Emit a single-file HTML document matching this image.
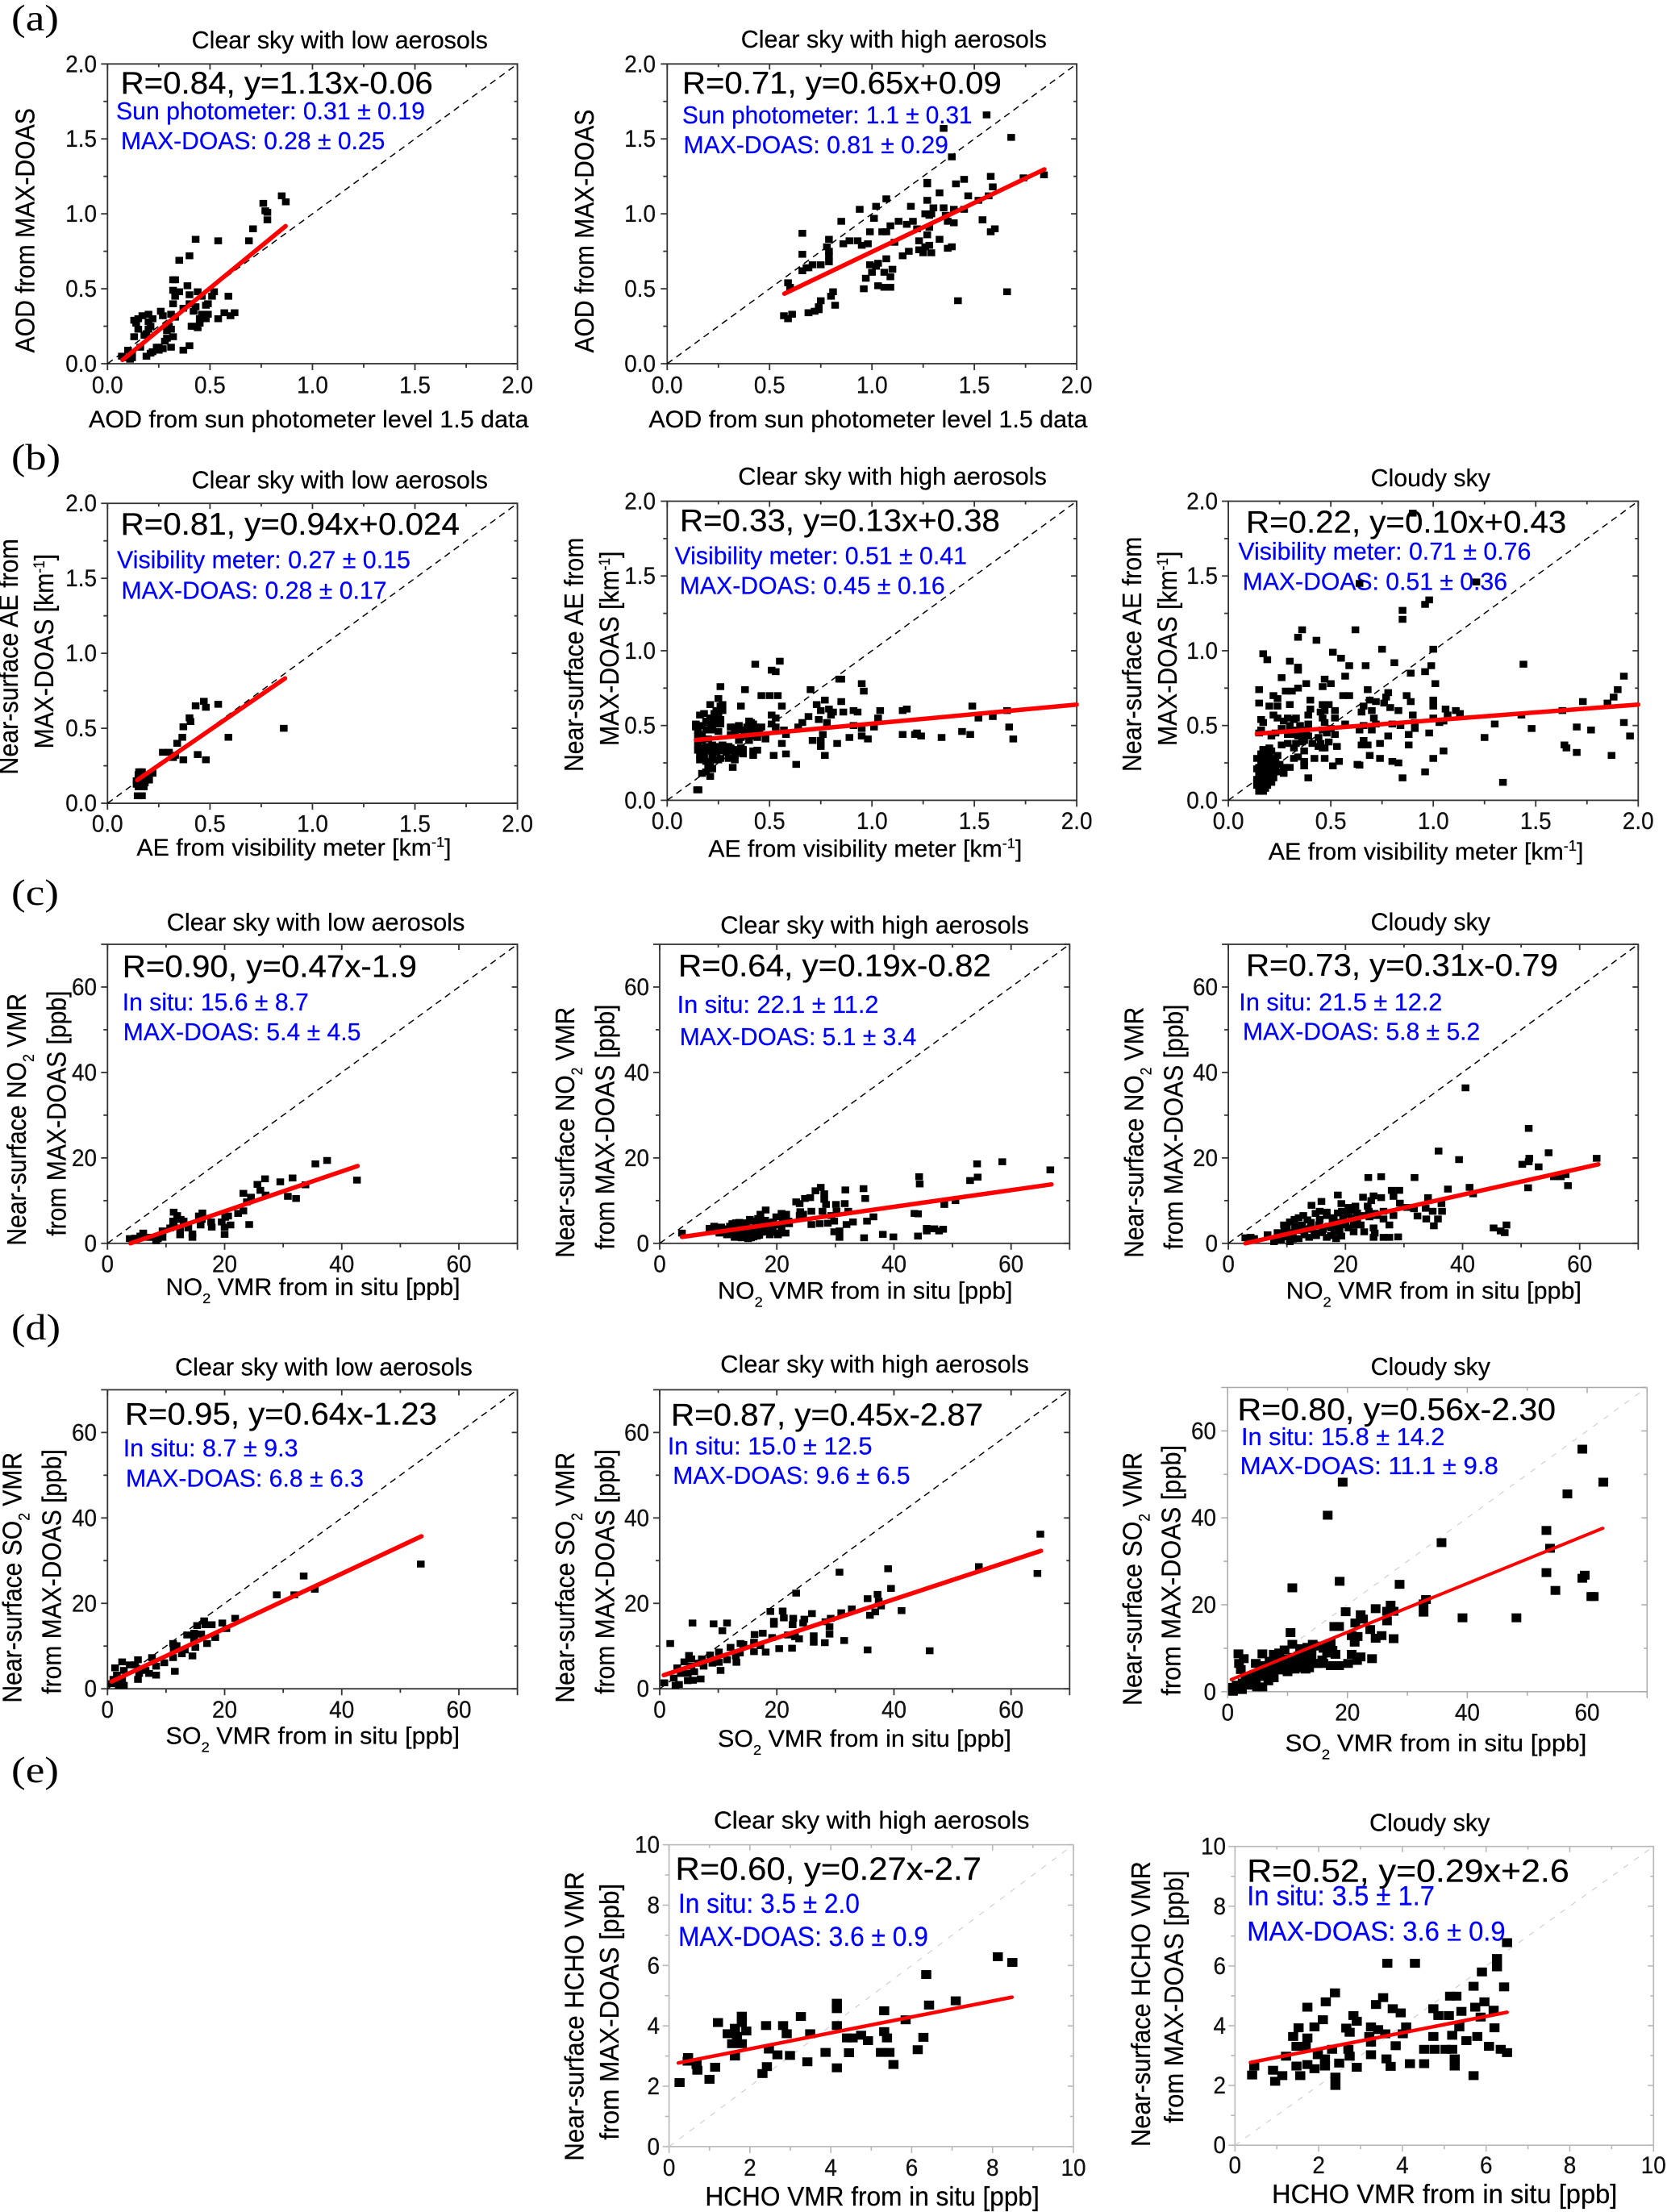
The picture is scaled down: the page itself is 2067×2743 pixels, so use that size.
<!DOCTYPE html>
<html lang="en">
<head>
<meta charset="utf-8">
<title>MAX-DOAS comparison scatter plots</title>
<style>
html,body{margin:0;padding:0;background:#fff;}
svg{display:block;}
text{font-family:"Liberation Sans",Arial,sans-serif;fill:#000;stroke:#000;stroke-width:.25px;}
.t{font-size:31px;}
.s{font-size:39px;}
.b{font-size:31px;fill:#0000ff;stroke:#0000ff;}
.x{font-size:30px;}
.y{font-size:33px;}
.l{font-family:"Liberation Serif",serif;font-size:46px;stroke-width:0;}
.tk{font-size:30px;fill:#111;}
.e .s{font-size:40px;}
.e .b{font-size:34px;}
.e .x{font-size:33px;}
.e .y{font-size:33px;}
</style>
</head>
<body>
<svg id="figure" xmlns="http://www.w3.org/2000/svg" width="2067" height="2743" viewBox="0 0 2067 2743">
<rect width="2067" height="2743" fill="#fff"/>

<text class="l" data-fit="14 73 37.5">(a)</text>
<text class="l" data-fit="14 75 582">(b)</text>
<text class="l" data-fit="14 73 1122">(c)</text>
<text class="l" data-fit="14 75 1661">(d)</text>
<text class="l" data-fit="14 73 2210">(e)</text>

<g id="a1">
<text class="t" data-fit="237.6 605 60">Clear sky with low aerosols</text>
<text class="s" data-fit="149.6 536.8 116">R=0.84, y=1.13x-0.06</text>
<text class="b" data-fit="144 527 148">Sun photometer: 0.31 ± 0.19</text>
<text class="b" data-fit="150 477.5 185">MAX-DOAS: 0.28 ± 0.25</text>
<text class="x" data-fit="110 655.6 530">AOD from sun photometer level 1.5 data</text>
<text class="y" data-fit-v="437.5 134 42.7">AOD from MAX-DOAS</text>
</g>

<g id="a2">
<text class="t" data-fit="918.8 1298 59">Clear sky with high aerosols</text>
<text class="s" data-fit="846 1242 116">R=0.71, y=0.65x+0.09</text>
<text class="b" data-fit="846 1205.7 153">Sun photometer: 1.1 ± 0.31</text>
<text class="b" data-fit="847.5 1176 190">MAX-DOAS: 0.81 ± 0.29</text>
<text class="x" data-fit="804.4 1348.7 530">AOD from sun photometer level 1.5 data</text>
<text class="y" data-fit-v="437.5 135.7 736">AOD from MAX-DOAS</text>
</g>

<g id="b1">
<text class="t" data-fit="237.6 605 605.6">Clear sky with low aerosols</text>
<text class="s" data-fit="149.6 570 663">R=0.81, y=0.94x+0.024</text>
<text class="b" data-fit="145 509 704.7">Visibility meter: 0.27 ± 0.15</text>
<text class="b" data-fit="150.5 479.6 742.6">MAX-DOAS: 0.28 ± 0.17</text>
<text class="x" data-fit="169.4 559.7 1061">AE from visibility meter [km<tspan dy="-11" font-size="18">-1</tspan><tspan dy="11">]</tspan></text>
<text class="y" data-fit-v="960.6 668 22">Near-surface AE from</text>
<text class="y" data-fit-v="928.5 686.8 66">MAX-DOAS [km<tspan dy="-11" font-size="19">-1</tspan><tspan dy="11">]</tspan></text>
</g>

<g id="b2">
<text class="t" data-fit="915.3 1298 601">Clear sky with high aerosols</text>
<text class="s" data-fit="843 1240 658.7">R=0.33, y=0.13x+0.38</text>
<text class="b" data-fit="836.5 1199 699.3">Visibility meter: 0.51 ± 0.41</text>
<text class="b" data-fit="842.7 1171.8 736.5">MAX-DOAS: 0.45 ± 0.16</text>
<text class="x" data-fit="878.3 1267.3 1062.7">AE from visibility meter [km<tspan dy="-11" font-size="18">-1</tspan><tspan dy="11">]</tspan></text>
<text class="y" data-fit-v="957 666.5 723">Near-surface AE from</text>
<text class="y" data-fit-v="925 683.4 767">MAX-DOAS [km<tspan dy="-11" font-size="19">-1</tspan><tspan dy="11">]</tspan></text>
</g>

<g id="b3">
<text class="t" data-fit="1699.6 1847.9 603">Cloudy sky</text>
<text class="s" data-fit="1545 1942.5 660.7">R=0.22, y=0.10x+0.43</text>
<text class="b" data-fit="1535.4 1898.5 694.2">Visibility meter: 0.71 ± 0.76</text>
<text class="b" data-fit="1540.7 1869 731.7">MAX-DOAS: 0.51 ± 0.36</text>
<text class="x" data-fit="1572.8 1963.6 1066">AE from visibility meter [km<tspan dy="-11" font-size="18">-1</tspan><tspan dy="11">]</tspan></text>
<text class="y" data-fit-v="957 665.5 1415">Near-surface AE from</text>
<text class="y" data-fit-v="925 683.4 1459">MAX-DOAS [km<tspan dy="-11" font-size="19">-1</tspan><tspan dy="11">]</tspan></text>
</g>

<g id="c1">
<text class="t" data-fit="206.8 576.5 1154">Clear sky with low aerosols</text>
<text class="s" data-fit="151.8 517 1211.6">R=0.90, y=0.47x-1.9</text>
<text class="b" data-fit="151.8 382.8 1252.8">In situ: 15.6 ± 8.7</text>
<text class="b" data-fit="152.7 447.5 1290">MAX-DOAS: 5.4 ± 4.5</text>
<text class="x" data-fit="205.5 570.7 1606">NO<tspan dy="10" font-size="18">2</tspan><tspan dy="-10"> VMR from in situ [ppb]</tspan></text>
<text class="y" data-fit-v="1544.6 1231.8 32">Near-surface NO<tspan dy="10" font-size="19">2</tspan><tspan dy="-10"> VMR</tspan></text>
<text class="y" data-fit-v="1532.7 1228.5 81.4">from MAX-DOAS [ppb]</text>
</g>

<g id="c2">
<text class="t" data-fit="893.3 1276 1157.5">Clear sky with high aerosols</text>
<text class="s" data-fit="841 1229 1210.5">R=0.64, y=0.19x-0.82</text>
<text class="b" data-fit="839.6 1089.6 1256">In situ: 22.1 ± 11.2</text>
<text class="b" data-fit="842.7 1136.6 1296">MAX-DOAS: 5.1 ± 3.4</text>
<text class="x" data-fit="890 1255.5 1610.5">NO<tspan dy="10" font-size="18">2</tspan><tspan dy="-10"> VMR from in situ [ppb]</tspan></text>
<text class="y" data-fit-v="1559.8 1248.7 712">Near-surface NO<tspan dy="10" font-size="19">2</tspan><tspan dy="-10"> VMR</tspan></text>
<text class="y" data-fit-v="1549.6 1245.4 761.3">from MAX-DOAS [ppb]</text>
</g>

<g id="c3">
<text class="t" data-fit="1699.6 1847.9 1153.4">Cloudy sky</text>
<text class="s" data-fit="1545 1932 1210">R=0.73, y=0.31x-0.79</text>
<text class="b" data-fit="1536.3 1788.4 1252.8">In situ: 21.5 ± 12.2</text>
<text class="b" data-fit="1541 1835.5 1289.3">MAX-DOAS: 5.8 ± 5.2</text>
<text class="x" data-fit="1594.8 1961 1610.5">NO<tspan dy="10" font-size="18">2</tspan><tspan dy="-10"> VMR from in situ [ppb]</tspan></text>
<text class="y" data-fit-v="1559.8 1248.7 1417.5">Near-surface NO<tspan dy="10" font-size="19">2</tspan><tspan dy="-10"> VMR</tspan></text>
<text class="y" data-fit-v="1549.6 1245.4 1466.3">from MAX-DOAS [ppb]</text>
</g>

<g id="d1">
<text class="t" data-fit="217 586 1705.6">Clear sky with low aerosols</text>
<text class="s" data-fit="155 542 1766.3">R=0.95, y=0.64x-1.23</text>
<text class="b" data-fit="152.7 369.6 1806">In situ: 8.7 ± 9.3</text>
<text class="b" data-fit="156 451 1843.7">MAX-DOAS: 6.8 ± 6.3</text>
<text class="x" data-fit="205.5 570 2162.5">SO<tspan dy="10" font-size="18">2</tspan><tspan dy="-10"> VMR from in situ [ppb]</tspan></text>
<text class="y" data-fit-v="2111.6 1800.8 26.4">Near-surface SO<tspan dy="10" font-size="19">2</tspan><tspan dy="-10"> VMR</tspan></text>
<text class="y" data-fit-v="2100.7 1797 75.7">from MAX-DOAS [ppb]</text>
</g>

<g id="d2">
<text class="t" data-fit="893.3 1276 1702">Clear sky with high aerosols</text>
<text class="s" data-fit="832 1219.4 1767.4">R=0.87, y=0.45x-2.87</text>
<text class="b" data-fit="827.7 1081.6 1803.4">In situ: 15.0 ± 12.5</text>
<text class="b" data-fit="834.3 1128.7 1840">MAX-DOAS: 9.6 ± 6.5</text>
<text class="x" data-fit="890 1254 2166">SO<tspan dy="10" font-size="18">2</tspan><tspan dy="-10"> VMR from in situ [ppb]</tspan></text>
<text class="y" data-fit-v="2111.6 1800.8 712">Near-surface SO<tspan dy="10" font-size="19">2</tspan><tspan dy="-10"> VMR</tspan></text>
<text class="y" data-fit-v="2100.7 1797 761.3">from MAX-DOAS [ppb]</text>
</g>

<g id="d3">
<text class="t" data-fit="1699.6 1847.9 1705.2">Cloudy sky</text>
<text class="s" data-fit="1534.5 1929.3 1760.9">R=0.80, y=0.56x-2.30</text>
<text class="b" data-fit="1539 1791.5 1791.8">In situ: 15.8 ± 14.2</text>
<text class="b" data-fit="1537.6 1858 1828">MAX-DOAS: 11.1 ± 9.8</text>
<text class="x" data-fit="1593.5 1967.5 2171.6">SO<tspan dy="10" font-size="18">2</tspan><tspan dy="-10"> VMR from in situ [ppb]</tspan></text>
<text class="y" data-fit-v="2115 1800.8 1415.7">Near-surface SO<tspan dy="10" font-size="19">2</tspan><tspan dy="-10"> VMR</tspan></text>
<text class="y" data-fit-v="2102.6 1791.8 1463.7">from MAX-DOAS [ppb]</text>
</g>

<g id="e1" class="e">
<text class="t" data-fit="885 1276.6 2267.5">Clear sky with high aerosols</text>
<text class="s" data-fit="837.5 1217 2331">R=0.60, y=0.27x-2.7</text>
<text class="b" data-fit="841 1066 2372">In situ: 3.5 ± 2.0</text>
<text class="b" data-fit="841 1151 2413">MAX-DOAS: 3.6 ± 0.9</text>
<text class="x" data-fit="874.4 1289 2735">HCHO VMR from in situ [ppb]</text>
<text class="y" data-fit-v="2679.6 2321 723.4">Near-surface HCHO VMR</text>
<text class="y" data-fit-v="2653.6 2335.7 767">from MAX-DOAS [ppb]</text>
</g>

<g id="e2" class="e">
<text class="t" data-fit="1698 1847.5 2270.3">Cloudy sky</text>
<text class="s" data-fit="1546.2 1945.8 2333.3">R=0.52, y=0.29x+2.6</text>
<text class="b" data-fit="1546.2 1779 2362.7">In situ: 3.5 ± 1.7</text>
<text class="b" data-fit="1546.2 1866.8 2406.7">MAX-DOAS: 3.6 ± 0.9</text>
<text class="x" data-fit="1577 2005.5 2732">HCHO VMR from in situ [ppb]</text>
<text class="y" data-fit-v="2662 2308 1426">Near-surface HCHO VMR</text>
<text class="y" data-fit-v="2632.8 2319.5 1467">from MAX-DOAS [ppb]</text>
</g>
</svg>

<script>
/* ---------- tick values and labels ---------- */
const aodTicks = [0, 0.5, 1, 1.5, 2];
const aodTickLabels = ['0.0', '0.5', '1.0', '1.5', '2.0'];
const vmrTicks = [0, 20, 40, 60];
const vmrTickLabels = ['0', '20', '40', '60'];
const hchoTicks = [0, 2, 4, 6, 8, 10];
const hchoTickLabels = ['0', '2', '4', '6', '8', '10'];

/* ---------- series values: [x, y] pairs ---------- */
const a1Points = [[.85,1.12],[.87,1.08],[.76,1.07],[.77,1.02],[.78,1.01],[.78,.96],[.71,.9],[.69,.82],[.54,.82],[.43,.83],[.4,.72],[.35,.69],[.32,.56],[.33,.56],[.39,.52],[.32,.49],[.35,.48],[.44,.48],[.4,.46],[.52,.48],[.51,.45],[.46,.45],[.59,.45],[.33,.45],[.32,.4],[.4,.4],[.49,.4],[.48,.39],[.37,.37],[.43,.38],[.42,.35],[.46,.33],[.49,.33],[.57,.34],[.62,.34],[.6,.32],[.54,.3],[.45,.3],[.48,.3],[.41,.25],[.44,.24],[.42,.25],[.45,.27],[.26,.35],[.27,.32],[.31,.33],[.33,.31],[.2,.33],[.17,.32],[.22,.3],[.13,.29],[.15,.3],[.14,.27],[.15,.23],[.2,.28],[.21,.25],[.2,.23],[.13,.18],[.18,.19],[.19,.2],[.31,.23],[.3,.25],[.29,.22],[.32,.18],[.29,.17],[.28,.15],[.31,.11],[.25,.11],[.27,.1],[.24,.11],[.25,.09],[.21,.07],[.19,.05],[.22,.08],[.4,.12],[.37,.09],[.1,.09],[.07,.05],[.11,.03],[.12,.04],[.16,.11],[.12,.07],[.09,.04]];
const a1Fit = [[.073,.025],[.869,.918]];

const a2Points = [[1.56,1.66],[1.35,1.57],[1.68,1.51],[1.39,1.38],[1.58,1.25],[1.74,1.24],[1.84,1.26],[1.45,1.23],[1.59,1.18],[1.41,1.2],[1.27,1.21],[1.27,1.2],[1.33,1.14],[1.47,1.12],[1.57,1.12],[1.52,1.09],[1.27,1.09],[1.07,1.1],[1.19,1.05],[1.02,1.05],[.94,1.03],[1.3,1.04],[1.35,1.04],[1.4,1.03],[1.45,1.03],[1.26,1],[1.29,1],[1.28,.99],[1.36,.99],[1.01,.97],[.85,.95],[1.54,.96],[1.54,.96],[1.37,.95],[1.4,.94],[1.13,.95],[1.2,.95],[1.17,.93],[1.09,.92],[1.28,.91],[1.6,.9],[1.58,.88],[1.22,.9],[.99,.88],[1.05,.88],[1.07,.88],[.66,.87],[.79,.83],[1.27,.86],[.89,.82],[.93,.82],[.98,.8],[.86,.8],[.95,.79],[1.11,.81],[1.23,.82],[1.33,.83],[.78,.78],[1.39,.78],[1.37,.77],[1.28,.79],[1.23,.76],[1.26,.78],[.79,.75],[1.18,.75],[1.25,.74],[1.29,.74],[.66,.73],[.79,.72],[1.15,.72],[1.07,.7],[.79,.68],[.75,.66],[.71,.66],[.68,.64],[.69,.64],[.99,.66],[1.03,.67],[1.02,.65],[.66,.62],[1.1,.63],[1.06,.61],[1,.61],[1.09,.58],[.97,.57],[.59,.54],[.6,.51],[1.03,.52],[1.06,.51],[1.09,.51],[.96,.5],[.81,.48],[.8,.45],[1.66,.48],[1.42,.42],[.75,.42],[.82,.39],[.74,.38],[.74,.36],[.72,.35],[.69,.34],[.69,.34],[.61,.33],[.57,.32],[.59,.3]];
const a2Fit = [[.572,.467],[1.842,1.297]];

const b1Points = [[.147,.05],[.168,.05],[.151,.11],[.177,.11],[.151,.155],[.168,.136],[.203,.155],[.22,.2],[.168,.21],[.151,.19],[.185,.18],[.159,.17],[.194,.19],[.142,.127],[.154,.21],[.177,.164],[.142,.15],[.182,.136],[.48,.29],[.37,.29],[.32,.305],[.44,.325],[.27,.34],[.3,.34],[.33,.32],[.34,.4],[.365,.44],[.59,.44],[.37,.51],[.405,.545],[.4,.57],[.86,.5],[.43,.65],[.47,.68],[.48,.64],[.54,.66]];
const b1Fit = [[.145,.155],[.866,.833]];

const b2Points = [[.146,.07],[.153,.07],[.21,.16],[.17,.18],[.19,.19],[.22,.21],[.2,.235],[.16,.27],[.2,.26],[.25,.27],[.32,.22],[.33,.27],[.15,.335],[.2,.33],[.24,.32],[.27,.33],[.29,.32],[.33,.32],[.37,.31],[.42,.3],[.44,.335],[.42,.33],[.52,.3],[.58,.31],[.56,.38],[.63,.24],[.77,.3],[.75,.36],[.83,.38],[.71,.4],[.75,.4],[.76,.44],[.89,.42],[.95,.43],[.98,.41],[1.15,.44],[1.21,.44],[1.22,.45],[1.24,.43],[1.34,.42],[1.44,.46],[1.48,.44],[1.69,.41],[1.67,.49],[1.59,.56],[1.52,.55],[1.49,.63],[1.66,.6],[1.15,.6],[1.17,.61],[1.03,.55],[1.04,.6],[1.01,.49],[.95,.48],[.91,.5],[.93,.59],[.91,.6],[.86,.59],[.81,.59],[.79,.61],[.8,.57],[.78,.52],[.74,.54],[.75,.6],[.73,.64],[.77,.67],[.85,.66],[.69,.56],[.66,.52],[.64,.49],[.7,.74],[.84,.81],[.85,.81],[.95,.78],[.96,.73],[.55,.93],[.43,.91],[.51,.87],[.53,.86],[.54,.7],[.5,.7],[.46,.7],[.38,.74],[.26,.76],[.25,.68],[.21,.64],[.27,.64],[.36,.63],[.56,.63],[.26,.63],[.24,.6],[.27,.6],[.18,.58],[.16,.57],[.25,.57],[.22,.55],[.26,.54],[.2,.52],[.23,.51],[.14,.51],[.26,.51],[.22,.47],[.15,.47],[.17,.44],[.16,.42],[.2,.41],[.14,.49],[.51,.57],[.53,.55],[.51,.51],[.53,.49],[.57,.47],[.58,.44],[.48,.41],[.46,.49],[.42,.51],[.4,.53],[.35,.5],[.31,.49],[.33,.45],[.38,.45],[.4,.43],[.44,.42],[.4,.47],[.43,.46],[.31,.44],[.35,.4],[.4,.4],[.36,.35],[.31,.35],[.27,.37],[.22,.37],[.15,.37],[.18,.35],[.27,.35],[.3,.28],[.37,.34],[.18,.3],[.26,.28],[.22,.3],[.33,.3],[.17,.4],[.19,.36],[.21,.33],[.23,.35],[.25,.36],[.28,.36],[.29,.33],[.3,.36],[.32,.33],[.34,.34],[.36,.32],[.17,.33],[.18,.3],[.16,.3],[.19,.26],[.21,.24],[.23,.27],[.19,.53],[.21,.55],[.23,.58],[.24,.53],[.21,.49],[.19,.47],[.25,.46],[.17,.5],[.15,.43],[.37,.47],[.39,.49],[.41,.45],[.43,.49],[.45,.45],[.35,.47],[.33,.49],[.41,.52],[.38,.43],[.36,.42],[.42,.43]];
const b2Fit = [[.14,.403],[2,.64]];

const b3Points = [[.85,.15],[1.34,.12],[.96,.19],[1,.28],[1.05,.33],[.98,.45],[.39,.15],[.83,.25],[.8,.26],[.74,.28],[.69,.3],[.64,.235],[.63,.24],[.54,.26],[.51,.23],[.47,.28],[.42,.28],[.37,.23],[.37,.26],[.34,.29],[.32,.28],[.3,.22],[.27,.18],[.27,.22],[.15,.06],[.17,.06],[.14,.1],[.16,.11],[.19,.1],[.21,.12],[.14,.14],[.17,.15],[.2,.14],[.22,.15],[.23,.19],[.15,.18],[.18,.19],[.2,.2],[.15,.22],[.17,.23],[.2,.24],[.22,.24],[.14,.28],[.18,.27],[.22,.28],[.2,.31],[.17,.34],[.2,.35],[.16,.31],[.15,.13],[.19,.13],[.17,.08],[.2,.16],[.26,.37],[.29,.38],[.32,.35],[.33,.38],[.36,.39],[.37,.33],[.44,.36],[.46,.35],[.47,.35],[.53,.36],[.49,.39],[.52,.44],[.15,.45],[.16,.47],[.21,.43],[.23,.45],[.26,.48],[.29,.44],[.32,.44],[.34,.43],[.39,.43],[.37,.4],[.3,.46],[.35,.47],[.39,.51],[.33,.55],[.16,.54],[.17,.52],[.22,.57],[.24,.55],[.27,.53],[.29,.55],[.32,.54],[.39,.57],[.4,.61],[.45,.59],[.46,.55],[.47,.52],[.52,.6],[.52,.55],[.57,.51],[.49,.64],[.46,.64],[.4,.67],[.2,.63],[.24,.63],[.3,.64],[.15,.65],[.22,.7],[.24,.68],[.15,.74],[.28,.73],[.31,.73],[.34,.75],[.56,.7],[.59,.7],[.26,.82],[.34,.89],[.34,.87],[.38,.78],[.47,.81],[.46,.76],[.5,.78],[.57,.83],[.59,.9],[.3,.93],[.19,.94],[.17,.98],[.55,.95],[.51,.99],[.34,1.09],[.36,1.14],[.43,1.07],[.62,1.14],[.67,.9],[.75,1.01],[.81,.92],[.68,.74],[.89,.85],[.96,.86],[.99,.9],[1,1.01],[1.01,.78],[.85,1.21],[.85,1.27],[.96,1.31],[.98,1.34],[.64,1.45],[1.21,1.46],[.9,1.92],[1.44,.91],[1.93,.83],[1.9,.74],[1.88,.69],[1.85,.65],[1.73,.66],[1.63,.6],[1.43,.57],[1.3,.51],[1.25,.42],[1.48,.48],[1.7,.49],[1.77,.47],[1.93,.52],[1.96,.43],[1.64,.37],[1.65,.35],[1.7,.32],[1.87,.3],[.78,.72],[.77,.69],[.76,.65],[.79,.62],[.66,.63],[.65,.59],[.69,.67],[.72,.66],[.7,.6],[.71,.55],[.72,.51],[.7,.47],[.64,.47],[.66,.5],[.87,.7],[.89,.66],[.83,.6],[.9,.57],[.91,.52],[.91,.48],[.88,.44],[.88,.37],[.8,.51],[.84,.5],[.78,.43],[.74,.38],[.68,.37],[.66,.4],[.65,.37],[1,.63],[1,.67],[1,.55],[1.03,.52],[1.05,.53],[1.06,.61],[1.07,.57],[1.11,.6],[1.13,.58],[.16,.08],[.18,.08],[.15,.08],[.14,.12],[.18,.11],[.17,.13],[.16,.16],[.18,.16],[.2,.18],[.16,.2],[.19,.22],[.21,.19],[.23,.22],[.14,.21],[.16,.25],[.18,.24],[.2,.27],[.23,.27],[.16,.29],[.18,.31],[.21,.33],[.24,.3],[.15,.12],[.19,.15],[.21,.15],[.17,.18],[.15,.16],[.19,.19],[.25,.24],[.24,.19],[.3,.5],[.33,.47],[.36,.45],[.38,.47],[.35,.5],[.36,.41],[.41,.38],[.45,.38],[.44,.42],[.48,.45],[.5,.48],[.47,.6],[.46,.47]];
const b3Fit = [[.139,.445],[2,.64]];

const c1Points = [[35.5,18.6],[37.5,19.4],[42.6,14.8],[31.6,15.3],[29.5,14.4],[26.9,15.1],[25.6,13.8],[33.8,13.7],[26.1,12.4],[23.2,11.7],[27,11.3],[30.8,11],[32.2,10.5],[24.5,10.8],[23.8,9.7],[23.2,7.6],[22.3,7],[24.2,4.4],[20.6,6.4],[20.1,6.1],[19.5,5],[21,4.3],[20,3.8],[20,2.1],[16.2,7.1],[15.6,6.4],[11.3,7.3],[11.9,6.5],[11.2,5.2],[12.5,5.6],[13,5.2],[11.3,4.3],[12.4,3.6],[12.4,2],[13.8,3.6],[15.9,4.3],[17.7,5],[17.8,3.8],[14.5,2.2],[14.5,1.4],[16.1,5.6],[10.7,3.6],[9.4,2.9],[9.4,1.4],[6.1,2.4],[5.6,1.7],[6.8,1.4],[3.8,1.1],[4.7,1.2],[7.7,1.4],[8.6,1.1],[8.3,.6]];
const c1Fit = [[3.9,0],[42.7,18.1]];

const c2Points = [[66.7,17.2],[58.5,19.1],[54.2,18.6],[54.3,15.5],[53,14.7],[44.3,15.6],[44.4,13.9],[34.8,12.8],[35.1,10.5],[31.7,12.5],[27.5,13.1],[28.1,11.6],[26.6,12.3],[28.1,10.3],[25.7,10.7],[24.8,10.5],[23.3,9.7],[23.9,9.3],[28.4,9.1],[30.1,9.1],[31.6,9.3],[48.6,9.1],[50.5,10],[32.2,7.5],[30.2,7.5],[27.8,7.5],[25.9,7.5],[24.5,6.8],[23.9,6.5],[29.3,6.5],[29.8,5.2],[28.7,4.7],[27.3,4.6],[25.9,4.4],[31.9,4.4],[33,5],[35.4,5.2],[36.5,6.2],[43.5,7],[44.1,6.9],[29.8,2.7],[30.7,2.9],[30.7,1.4],[34.9,1.3],[38.1,2.1],[39.9,1.5],[44.1,1.7],[45.6,3.5],[45.6,2.9],[46.9,3.4],[47.7,2.9],[48.4,3.3],[3.8,2.4],[8.5,3.5],[9.3,4],[10.5,3.8],[10.2,2.4],[11.5,2],[12.4,4.6],[13.6,4.9],[13,3.3],[13.6,1.7],[14.5,2.4],[15.4,5.6],[15.1,1.1],[16.9,3.6],[16.6,1.7],[17.2,6.8],[18.1,7.8],[18.7,4.3],[18.1,2.7],[19.9,6.2],[20.2,4.3],[20.2,2.4],[20.8,7],[21.6,6.8],[21.5,2.4],[22.1,4.6],[16,3.3],[14.5,4.3],[17.5,5.2],[19.3,3.3],[11.8,3],[13.9,3],[15.4,2.4],[9,3],[10,2.8],[11,3.4],[12,2.6],[12.8,1.4],[13.2,2.2],[14,1.3],[14.2,3.5],[15,3.4],[15.6,1.3],[16.2,2.4],[16.5,4.6],[17,1.9],[17.8,3.2],[18.4,4.8],[18.8,2],[19.4,5],[20.8,3.6],[19,2.6],[11,2.6],[12,4],[13,4.8],[14.8,4.8],[15.8,5.2],[16.8,5.8],[21,5.4],[20.2,2],[13.4,4],[14,2.6],[15,2],[16,1.5],[17.4,2.6],[22,5.2],[18,5.4],[24,7.4]];
const c2Fit = [[3.8,1.5],[66.9,13.8]];

const c3Points = [[40.5,36.4],[51.3,26.9],[35.9,21.6],[54.7,21.2],[39.4,19.6],[62.9,19.9],[51.4,19.9],[51.3,19.1],[50.2,18.5],[53,17.9],[57.6,16.1],[55.6,15.6],[56.8,15.6],[58,13.5],[51.2,13],[41.8,11.6],[41.2,13.1],[37.5,12.7],[31.8,15.4],[26.1,15.6],[23.9,15.4],[29.2,12.4],[27.9,12.4],[34.1,10.7],[36.4,9.3],[36.5,7.5],[33.7,8.2],[34.9,7.5],[32.3,6.4],[31.7,8.1],[30.5,8.4],[29.3,9.4],[28.2,11],[26.1,10.7],[24.8,11.1],[24.4,10],[23,10.8],[23.8,8.7],[18.7,11.3],[15.9,9.8],[14.2,8.9],[19.3,9.3],[26.5,7.5],[28.2,6.5],[26.5,5.7],[27.5,4.3],[24.8,3.6],[25,2.4],[24.8,1.4],[26.5,1.4],[27.5,1.4],[29,1.5],[33.8,5.7],[35.8,5.7],[35.1,4.1],[45.3,3.6],[47.5,4.3],[46.5,2.9],[47.2,2.5],[2.9,1.3],[3.8,1.4],[4.4,1.1],[6.7,2],[7.8,.4],[8.4,2.5],[9.5,4.3],[9.6,3],[10.5,.4],[11.3,5.6],[11.4,4],[12,1.1],[12.8,6.5],[12.6,4.3],[13.8,1.4],[14.1,4.9],[14.7,2.4],[14.9,7],[15.6,5.6],[16.8,6.5],[16.8,1.4],[17.1,4],[18.1,2.7],[18.4,1.1],[18.7,7.1],[19.3,1.7],[19.6,5.9],[19.6,4.3],[20.5,8.4],[20.5,6.8],[21.4,4.3],[21.4,2.7],[21.7,8.7],[22,7.1],[22.6,4.3],[23.2,2.7],[24.1,6.2],[25.3,6.5],[16.2,3.3],[13.5,3.3],[15.6,7.5],[19,4.9],[17.8,5.2],[9,2],[10,1.5],[11,2.5],[12,3],[13,2],[14,3.5],[15,1.8],[15.5,4.3],[16,2.5],[17.5,1.8],[17.6,3.6],[18.5,4],[19,3],[20,5],[20.5,3.6],[21,6],[22,5],[23,6.5],[24,7.5],[25,7],[21,7.7],[19.4,7.5],[18,6],[16.8,7.3],[13.5,5.5],[12,6],[10.5,5],[10,3.5],[8.5,1.2],[9,.8],[11,1]];
const c3Fit = [[2.9,0],[63.2,18.5]];

const d1Points = [[53.5,29.2],[33.5,26.4],[28.9,22],[31.9,22],[35.4,23.3],[21.8,16.5],[19.6,15.4],[20.3,14.1],[17.8,15],[16.5,15.9],[16.7,15],[15.3,14.8],[13.6,12.6],[14.8,13],[16,12.8],[18.4,12],[17,10.6],[14.8,11.6],[15,9.7],[14.5,7.7],[11.2,10.6],[11.8,10.1],[11.2,7.3],[11.3,9.4],[13.2,9.1],[12.7,8.2],[11.5,4.1],[9.7,6.1],[7.6,7.3],[7.8,6.3],[8.3,3.2],[7.1,3.6],[5.2,6.8],[3.8,5.6],[2.5,6.3],[1.3,4.9],[4.7,5.6],[5.2,2.2],[5.4,3.6],[2.8,4.3],[1,2.2],[.7,1.2],[1.6,3.2],[2.5,1.9],[2.8,.8],[1.9,.8],[6.5,4.3],[8.3,5.3]];
const d1Fit = [[.7,1.7],[53.6,35.7]];

const d2Points = [[65,36.2],[64.5,27],[54.5,28.6],[39,28.1],[30.7,27.3],[39.5,23.5],[23.3,22.4],[37.2,22.1],[35.5,21.1],[37.4,20.5],[37.8,19.4],[41.3,18.3],[32.8,18.7],[31,17.8],[36.8,18],[35.9,17.2],[18.9,18.1],[21,18.2],[21.2,16.6],[22.8,16.5],[26,17.6],[24.7,16.3],[29.2,16.5],[19.5,15.8],[19.5,15.1],[22.7,15],[24.5,15.4],[28.3,15.7],[29,14.5],[5.6,15.4],[9.2,15.2],[11.5,15.4],[10.7,13.6],[1.8,10.6],[16.2,12.7],[17.6,13],[29,12.8],[21.9,12.6],[19.2,12],[26.3,12.4],[23.1,12.2],[23.8,11.7],[26.3,10.9],[31.5,11.3],[28.2,10.8],[35.5,9.1],[46.1,8.9],[20.4,9.4],[22.6,9.5],[16.1,10.9],[17.2,10.1],[16.1,8.7],[18.1,8.6],[13.8,10.6],[14.3,10.4],[12.1,9.7],[13.7,8.4],[13,7.7],[11.5,6.8],[13.1,6.2],[10.4,4.3],[8.6,7.9],[10.1,8.6],[10.1,6.2],[9,6],[7.2,7],[6.6,6],[5,7.8],[5.4,7],[4.2,6.3],[3,4.9],[5.9,4],[7,2.3],[5.7,2],[4.8,1.9],[3.6,3.6],[2.4,2.5],[3.3,1],[2.7,.8],[.8,1.4],[4.8,3.6],[5.4,5.3],[7.5,5.3]];
const d2Fit = [[.7,3.2],[65.1,32.3]];

const d3Points = [[59.2,55.8],[19.2,48.2],[62.7,48.2],[56.7,45.5],[16.7,40.6],[53.2,37.1],[35.7,34.3],[53.8,33],[53.2,27.4],[59.6,26.8],[59.2,26.1],[54.7,23.3],[18.7,25.4],[10.8,23.9],[28.7,24.7],[60.7,21.9],[61.1,21.9],[33.1,21.2],[32.7,20.2],[32.7,18.3],[39.2,17],[48.2,17],[27.2,19.9],[24.7,19.1],[26.6,18.5],[27.7,18.5],[19.7,18.4],[22.2,17.7],[26.6,16.3],[22.6,16.7],[21.3,15.8],[17.8,15],[18.6,15],[23.8,14.3],[25.7,12.9],[24.7,12.3],[27.7,12.2],[21.7,12.7],[20.7,12.9],[21.2,11.4],[10.5,13.6],[10.8,10.9],[14.2,10.9],[17.2,11.1],[24.1,7.6],[22.2,8],[20.7,8.6],[21.6,7.2],[20.1,6.5],[18.6,6],[17.2,6],[18,8.6],[16.6,8.9],[15.8,7.3],[1.8,8.7],[2.7,7.6],[1.9,6.5],[2.2,5.1],[.9,1],[2.4,.5],[.9,.1],[3.3,2.8],[4.7,6.5],[5.8,8.7],[4.9,1.1],[5.8,1.1],[4.7,2.8],[6.8,2.5],[7.7,3.2],[5.9,4.9],[7.7,8.6],[7.1,5.9],[8.6,8.9],[9.5,9.6],[9.2,7.2],[8.3,5.2],[9.5,5.5],[11.2,5.2],[10.7,6.5],[11.8,8.2],[12.7,5.5],[13.6,5.5],[13.3,10.2],[13.9,6.9],[12.7,7.5],[12.1,9.9],[11,7.9],[1.5,1.5],[2.5,2],[3.5,1.5],[4,3.5],[5,4],[6,3.5],[6.5,6],[7,7],[8,6.5],[9,6],[10,7.5],[10,4.6],[11,6.5],[12,6.5],[13,7],[13,5.2],[14.5,6.5],[15,6.5],[8.5,7.5],[9,5],[7,4],[6,6],[3,3.5],[16,6.5],[14,8],[12.5,9],[14,10],[15,10.5],[16,10],[16.5,10.3],[17.5,9.5]];
const d3Fit = [[.6,2.8],[62.6,37.6]];

const e1Points = [[.26,2.12],[8.13,6.29],[8.49,6.1],[6.36,5.7],[4.15,4.75],[4.15,4.57],[6.43,4.69],[7.09,4.83],[5.32,4.5],[3.26,4.31],[5.85,4.2],[1.8,4.32],[1.21,4.11],[1.8,4.11],[2.4,4.01],[2.82,4.01],[4.15,4.01],[1.63,3.92],[1.91,3.83],[1.45,3.74],[2.91,3.74],[3.49,3.74],[5.32,3.81],[1.68,3.65],[4.4,3.6],[4.75,3.69],[4.54,3.6],[5.39,3.6],[6.29,3.62],[4.92,3.51],[1.56,3.41],[1.8,3.41],[2.47,3.23],[.47,2.95],[3.87,3.12],[4.45,3.11],[5.24,3.12],[5.45,3.12],[6.15,3.21],[1.63,3],[2.68,3.04],[2.99,3.02],[.68,2.72],[3.42,2.81],[5.55,2.72],[1.14,2.63],[.7,2.53],[2.42,2.65],[4.15,2.61],[2.31,2.42],[1,2.23],[.46,2.83]];
const e1Fit = [[.23,2.77],[8.48,4.95]];

const e2Points = [[6.5,6.78],[6.26,6.25],[6.26,5.97],[3.64,6.09],[4.3,6.09],[5.9,5.8],[5.7,5.32],[6.43,5.3],[2.39,5.1],[5.29,4.99],[5.14,4.99],[2.17,4.8],[1.73,4.62],[3.54,4.94],[3.37,4.71],[5.96,4.8],[5.74,4.62],[3.77,4.57],[3.96,4.43],[4.74,4.57],[5.41,4.48],[6.18,4.52],[4.86,4.34],[5.11,4.34],[2.83,4.34],[2.1,4.2],[5.87,4.29],[2.91,4.15],[1.9,3.96],[1.52,3.93],[2.66,3.92],[3.25,3.96],[3.42,3.87],[4.09,3.96],[5.36,3.96],[6.2,3.93],[1.39,3.64],[1.73,3.59],[2.74,3.78],[3.21,3.64],[3.59,3.73],[4.01,3.73],[4.74,3.64],[5.19,3.68],[5.79,3.64],[1.47,3.31],[1.69,3.31],[2.32,3.21],[2.71,3.21],[3.25,3.45],[3.84,3.33],[4.52,3.21],[4.77,3.21],[5.03,3.21],[5.19,3.21],[5.53,3.5],[6.07,3.31],[6.35,3.21],[6.5,3.1],[1.22,2.98],[1.98,3.03],[2.15,2.89],[2.74,2.98],[3.25,3.03],[3.62,2.89],[5.25,2.89],[1.47,2.65],[1.73,2.7],[2.15,2.65],[2.49,2.75],[2.91,2.61],[3.72,2.64],[4.18,2.73],[4.52,2.73],[5.25,2.65],[.46,2.65],[.41,2.35],[.91,2.51],[1.13,2.33],[.96,2.14],[1.56,2.33],[2.4,2.28],[2.4,2],[5.7,2.33],[1.9,2.56]];
const e2Fit = [[.37,2.77],[6.5,4.45]];

/* ---------- panel layout (frames in page pixels) ---------- */
const aodAxis = { max: 2, ticks: aodTicks, labels: aodTickLabels, minorStep: 0.25 };
const vmrAxis = { max: 70, ticks: vmrTicks, labels: vmrTickLabels, minorStep: 10 };
const hchoAxis = { max: 10, ticks: hchoTicks, labels: hchoTickLabels, minorStep: 1 };
const darkStyle = { frame: '#333', width: 1.8, dash: '#000', dashWidth: 1.5, dashes: '8 6', fit: 5.5, mw: 9.5, mh: 8.5 };
const greyStyle = { frame: '#a8a8a8', width: 1.5, dash: '#d0d0d0', dashWidth: 1.2, dashes: '7 9', fit: 4, mw: 12, mh: 11 };
const hchoStyle = { frame: '#b8b8b8', width: 1.6, dash: '#d0d0d0', dashWidth: 1.2, dashes: '7 9', fit: 4.5, mw: 12.5, mh: 11 };

const panels = [
  { id: 'a1', l: 133.3, r: 641.6, t: 79.3, b: 451, axis: aodAxis, style: darkStyle, pts: a1Points, fitLine: a1Fit, xBase: 487.5, yRight: 120 },
  { id: 'a2', l: 827.3, r: 1335.1, t: 79.3, b: 451, axis: aodAxis, style: darkStyle, pts: a2Points, fitLine: a2Fit, xBase: 487.5, yRight: 813 },
  { id: 'b1', l: 133.3, r: 641.6, t: 624.2, b: 996.1, axis: aodAxis, style: darkStyle, pts: b1Points, fitLine: b1Fit, xBase: 1031.6, yRight: 120 },
  { id: 'b2', l: 827.3, r: 1335.1, t: 621.5, b: 992.4, axis: aodAxis, style: darkStyle, pts: b2Points, fitLine: b2Fit, xBase: 1028, yRight: 813 },
  { id: 'b3', l: 1523.1, r: 2031.3, t: 621.5, b: 992.4, axis: aodAxis, style: darkStyle, pts: b3Points, fitLine: b3Fit, xBase: 1028, yRight: 1510 },
  { id: 'c1', l: 133.3, r: 641.6, t: 1171, b: 1541.8, axis: vmrAxis, style: darkStyle, pts: c1Points, fitLine: c1Fit, xBase: 1577.4, yRight: 120 },
  { id: 'c2', l: 818, r: 1326.3, t: 1171, b: 1541.8, axis: vmrAxis, style: darkStyle, pts: c2Points, fitLine: c2Fit, xBase: 1577.4, yRight: 805 },
  { id: 'c3', l: 1523.1, r: 2031.3, t: 1171, b: 1541.8, axis: vmrAxis, style: darkStyle, pts: c3Points, fitLine: c3Fit, xBase: 1577.4, yRight: 1510 },
  { id: 'd1', l: 133.3, r: 641.6, t: 1723.4, b: 2094.2, axis: vmrAxis, style: darkStyle, pts: d1Points, fitLine: d1Fit, xBase: 2129.8, yRight: 120 },
  { id: 'd2', l: 818, r: 1326.3, t: 1723.4, b: 2094.2, axis: vmrAxis, style: darkStyle, pts: d2Points, fitLine: d2Fit, xBase: 2129.8, yRight: 805 },
  { id: 'd3', l: 1522.2, r: 2042.3, t: 1720.5, b: 2097.8, axis: vmrAxis, style: greyStyle, pts: d3Points, fitLine: d3Fit, xBase: 2133.5, yRight: 1508 },
  { id: 'e1', l: 829.6, r: 1331, t: 2287.6, b: 2661.9, axis: hchoAxis, style: hchoStyle, pts: e1Points, fitLine: e1Fit, xBase: 2698, yRight: 818 },
  { id: 'e2', l: 1531.3, r: 2050.3, t: 2289.7, b: 2660.2, axis: hchoAxis, style: hchoStyle, pts: e2Points, fitLine: e2Fit, xBase: 2695, yRight: 1520 }
];

const NS = 'http://www.w3.org/2000/svg';
const tickLabelSqueeze = 0.93;

function fitStaticText() {
  document.querySelectorAll('[data-fit]').forEach(function (t) {
    const p = t.getAttribute('data-fit').split(' ').map(Number);
    const k = (p[1] - p[0]) / t.getComputedTextLength();
    t.setAttribute('transform', 'translate(' + p[0] + ' ' + p[2] + ') scale(' + k + ' 1)');
  });
  document.querySelectorAll('[data-fit-v]').forEach(function (t) {
    const p = t.getAttribute('data-fit-v').split(' ').map(Number);
    const k = (p[0] - p[1]) / t.getComputedTextLength();
    t.setAttribute('transform', 'translate(' + p[2] + ' ' + p[0] + ') rotate(-90) scale(' + k + ' 1)');
  });
}

function addLine(parent, x1, y1, x2, y2, stroke, width) {
  const el = document.createElementNS(NS, 'line');
  el.setAttribute('x1', x1);
  el.setAttribute('y1', y1);
  el.setAttribute('x2', x2);
  el.setAttribute('y2', y2);
  el.setAttribute('stroke', stroke);
  el.setAttribute('stroke-width', width);
  parent.appendChild(el);
  return el;
}

function drawTicks(g, p, xs, ys) {
  const axis = p.axis;
  const st = p.style;
  const count = Math.round(axis.max / axis.minorStep);
  for (let i = 0; i <= count; i++) {
    const v = i * axis.minorStep;
    const major = axis.ticks.indexOf(v) >= 0 || Math.abs(v - axis.max) < 1e-9;
    const out = major ? 8 : 5;
    const inn = major ? 7 : 4;
    const xt1 = addLine(g, xs(v), p.b, xs(v), p.b + out, st.frame, st.width);
    
    
    const xt2 = addLine(g, xs(v), p.t, xs(v), p.t + inn, st.frame, st.width);
    
    
    const yt1 = addLine(g, p.l - out, ys(v), p.l, ys(v), st.frame, st.width);
    
    
    const yt2 = addLine(g, p.r - inn, ys(v), p.r, ys(v), st.frame, st.width);
    
    
  }
  axis.ticks.forEach(function (v, i) {
    const xl = document.createElementNS(NS, 'text');
    
    
    xl.setAttribute('class', 'tk');
    xl.setAttribute('transform', 'translate(' + xs(v) + ' ' + p.xBase + ') scale(' + tickLabelSqueeze + ' 1)');
    xl.setAttribute('text-anchor', 'middle');
    xl.textContent = axis.labels[i];
    g.appendChild(xl);
    const yl = document.createElementNS(NS, 'text');
    
    
    yl.setAttribute('class', 'tk');
    yl.setAttribute('transform', 'translate(' + p.yRight + ' ' + (ys(v) + 10) + ') scale(' + tickLabelSqueeze + ' 1)');
    yl.setAttribute('text-anchor', 'end');
    yl.textContent = axis.labels[i];
    g.appendChild(yl);
  });
}

function drawPanel(p) {
  const g = document.getElementById(p.id);
  const st = p.style;
  const xs = function (v) { return p.l + v / p.axis.max * (p.r - p.l); };
  const ys = function (v) { return p.b - v / p.axis.max * (p.b - p.t); };

  const frame = document.createElementNS(NS, 'rect');
  
  
  frame.setAttribute('x', p.l);
  frame.setAttribute('y', p.t);
  frame.setAttribute('width', p.r - p.l);
  frame.setAttribute('height', p.b - p.t);
  frame.setAttribute('fill', 'none');
  frame.setAttribute('stroke', st.frame);
  frame.setAttribute('stroke-width', st.width);
  g.appendChild(frame);

  drawTicks(g, p, xs, ys);

  const diag = addLine(g, xs(0), ys(0), xs(p.axis.max), ys(p.axis.max), st.dash, st.dashWidth);
  diag.setAttribute('stroke-dasharray', st.dashes);
  
  

  p.pts.forEach(function (pt) {
    const m = document.createElementNS(NS, 'rect');
    
    
    m.setAttribute('x', xs(pt[0]) - st.mw / 2);
    m.setAttribute('y', ys(pt[1]) - st.mh / 2);
    m.setAttribute('width', st.mw);
    m.setAttribute('height', st.mh);
    m.setAttribute('fill', '#000');
    g.appendChild(m);
  });

  const fit = addLine(g, xs(p.fitLine[0][0]), ys(p.fitLine[0][1]), xs(p.fitLine[1][0]), ys(p.fitLine[1][1]), '#ff0000', st.fit);
  fit.setAttribute('stroke-linecap', 'round');
  
  
}

fitStaticText();
panels.forEach(drawPanel);
</script>
</body>
</html>
